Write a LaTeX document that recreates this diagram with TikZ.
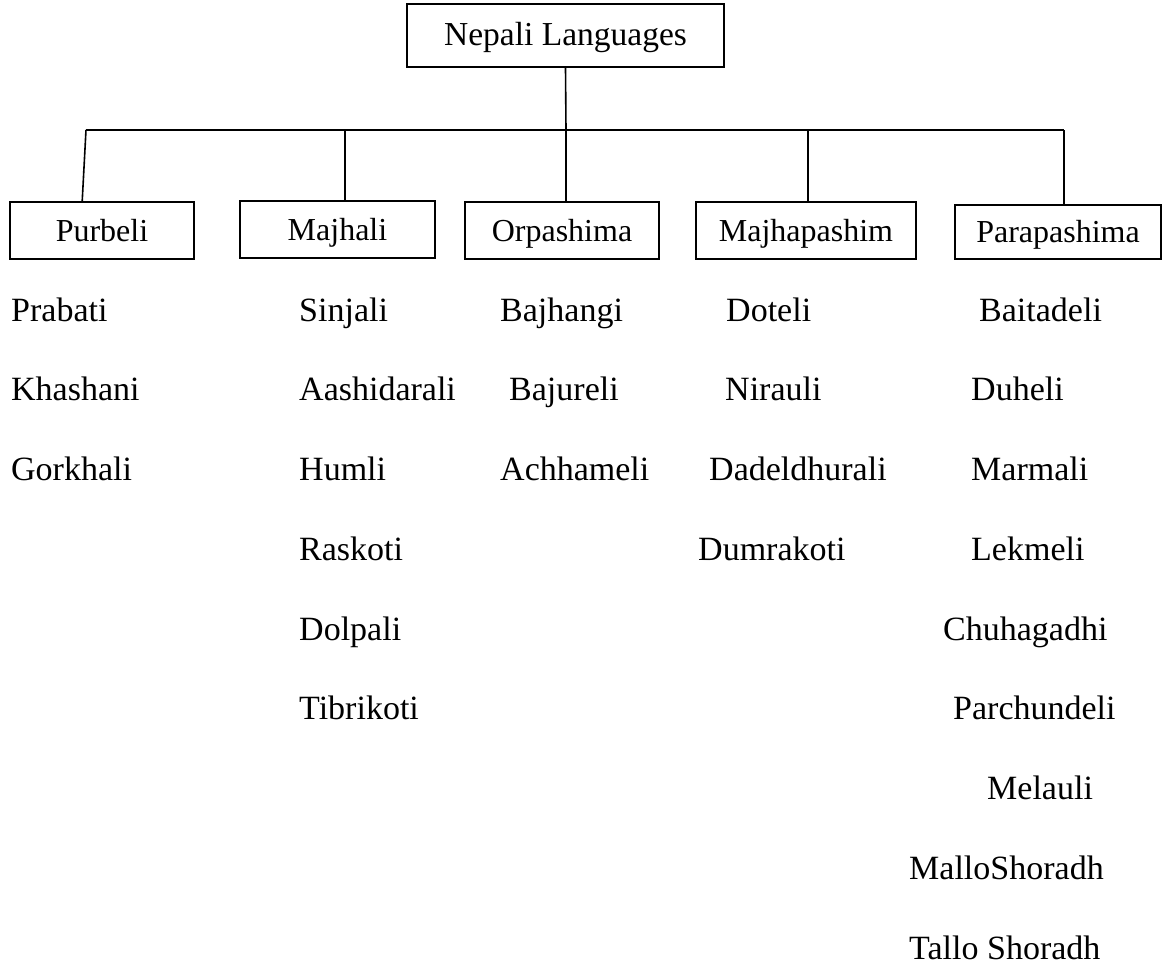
\documentclass[tikz,border=0pt]{standalone}
\usepackage{fontspec}
\setmainfont{Liberation Serif}
\usetikzlibrary{calc}
\begin{document}
\begin{tikzpicture}[x=1pt,y=-1pt,
  box/.style={draw,line width=1.6pt,inner sep=0pt,text height=21pt,text depth=0pt,font=\fontsize{32}{38}\selectfont},
  item/.style={anchor=base west,inner sep=0pt,font=\fontsize{34}{40}\selectfont},
  link/.style={line width=1.6pt}]
\useasboundingbox (0,0) rectangle (1165,966);
% root
\node[box,minimum width=317pt,minimum height=63pt,font=\fontsize{33.5}{40}\selectfont] (root) at (565.5,35.5) {Nepali Languages};
% branches
\node[box,minimum width=184pt,minimum height=57pt] (c1) at (102,230.5) {Purbeli};
\node[box,minimum width=195pt,minimum height=57pt] (c2) at (337.5,229.5) {Majhali};
\node[box,minimum width=194pt,minimum height=57pt] (c3) at (562,230.5) {Orpashima};
\node[box,minimum width=220pt,minimum height=57pt] (c4) at (806,230.5) {Majhapashim};
\node[box,minimum width=206pt,minimum height=54pt] (c5) at (1058,232) {Parapashima};
% connectors
\coordinate (jL) at (86,130);
\coordinate (j2) at (345,130);
\coordinate (jM) at (566,130);
\coordinate (j4) at (808,130);
\coordinate (jR) at (1064,130);
\draw[link] (root.south) -- (jM);
\draw[link] (jL) -- (jR);
\draw[link] (jL) -- ($(c1.north west)+(73,0)$);
\draw[link] (j2) -- (j2 |- c2.north);
\draw[link] (jM) -- (jM |- c3.north);
\draw[link] (j4) -- (j4 |- c4.north);
\draw[link] (jR) -- (jR |- c5.north);
% Purbeli
\node[item] (a1) at (11,321) {Prabati};
\node[item] (a2) at (11,400.75) {Khashani};
\node[item] (a3) at (11,480.5) {Gorkhali};
% Majhali
\node[item] (b1) at (299,321) {Sinjali};
\node[item] (b2) at (299,400.75) {Aashidarali};
\node[item] (b3) at (299,480.5) {Humli};
\node[item] (b4) at (299,560.25) {Raskoti};
\node[item] (b5) at (299,640) {Dolpali};
\node[item] (b6) at (299,719.75) {Tibrikoti};
% Orpashima
\node[item] (o1) at (500,321) {Bajhangi};
\node[item] (o2) at (509,400.75) {Bajureli};
\node[item] (o3) at (500,480.5) {Achhameli};
% Majhapashim
\node[item] (m1) at (726,321) {Doteli};
\node[item] (m2) at (725,400.75) {Nirauli};
\node[item] (m3) at (709,480.5) {Dadeldhurali};
\node[item] (m4) at (698,560.25) {Dumrakoti};
% Parapashima
\node[item] (r1) at (979,321) {Baitadeli};
\node[item] (r2) at (971,400.75) {Duheli};
\node[item] (r3) at (971,480.5) {Marmali};
\node[item] (r4) at (971,560.25) {Lekmeli};
\node[item] (r5) at (943,640) {Chuhagadhi};
\node[item] (r6) at (953,719.75) {Parchundeli};
\node[item] (r7) at (987,799.5) {Melauli};
\node[item] (r8) at (909,879.25) {MalloShoradh};
\node[item] (r9) at (909,959) {Tallo Shoradh};
\end{tikzpicture}
\end{document}
